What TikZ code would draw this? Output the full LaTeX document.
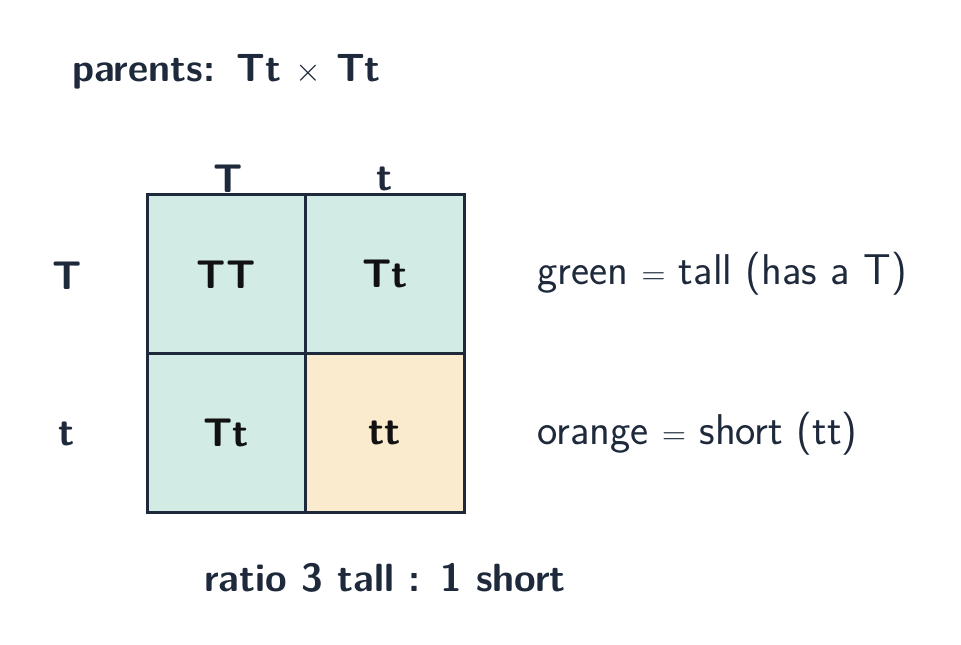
\documentclass[tikz,border=0pt]{standalone}
\usepackage{fontspec}
\definecolor{ink}{HTML}{1E293B}
\definecolor{cellink}{HTML}{111111}
\definecolor{tallfill}{HTML}{D2ECE5}
\definecolor{shortfill}{HTML}{FAEBCE}
\begin{document}
\begin{tikzpicture}[x=0.75pt,y=-0.75pt,
  lbl/.style={text=ink,font=\sffamily\bfseries\fontsize{30}{34}\selectfont,inner sep=0pt},
  legend/.style={text=ink,font=\sffamily\fontsize{32.3}{36}\selectfont,inner sep=0pt,anchor=west},
  title/.style={text=ink,font=\sffamily\bfseries\fontsize{29.5}{34}\selectfont,inner sep=0pt},
  cell/.style={draw=ink,line width=2.25pt,minimum width=158.5*0.75pt,minimum height=158.5*0.75pt,inner sep=0pt,text=cellink,font=\sffamily\bfseries\fontsize{30}{34}\selectfont}]
\useasboundingbox (0,0) rectangle (961,645);
\node[title] (parents) at (226.5,72) {parents:\hspace{0.55em}Tt $\times$ Tt};
\node[cell,fill=tallfill] (c11) at (226.25,274.25) {TT};
\node[cell,fill=tallfill] (c12) at (384.75,274.25) {Tt};
\node[cell,fill=tallfill] (c21) at (226.25,432.75) {Tt};
\node[cell,fill=shortfill] (c22) at (384.75,432.75) {tt};
\node[lbl] (h1) at (228,179) {T};
\node[lbl] (h2) at (385,179) {t};
\node[lbl] (r1) at (67,276) {T};
\node[lbl] (r2) at (67,434) {t};
\node[legend] (lg1) at (537,274) {green $=$ tall (has a T)};
\node[legend] (lg2) at (537,434) {orange $=$ short (tt)};
\node[title] (ratio) at (385,578) {ratio 3 tall : 1 short};
\end{tikzpicture}
\end{document}
